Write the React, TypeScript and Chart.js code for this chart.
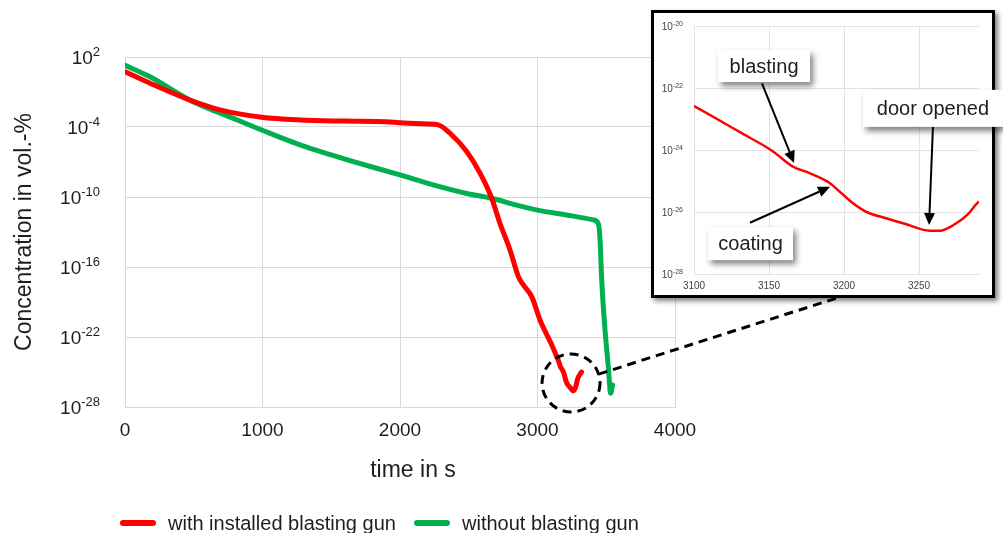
import React, { useEffect, useRef } from 'react';
import { Chart, registerables } from 'chart.js';

Chart.register(...registerables);

const FONT = '"Liberation Sans", Arial, Helvetica, sans-serif';
const TEXT = '#1e1e1e';

// ---- data (time in s, concentration in vol.-%) ----
const redTimes = [0, 182, 473, 691, 994, 1273, 1600, 1900, 2000, 2200, 2279, 2364, 2485, 2582, 2667, 2727, 2800, 2861, 2897, 2958, 3018, 3100, 3130, 3152, 3166, 3177, 3190, 3197, 3206, 3215, 3228, 3241, 3257, 3264, 3273, 3282, 3290, 3320];
const redValues = [5.5e0, 5.6e-1, 2.0e-2, 2.9e-3, 6.8e-4, 4.0e-4, 3.2e-4, 2.8e-4, 2.3e-4, 1.8e-4, 1.5e-4, 2.9e-5, 7.8e-7, 1.1e-8, 7.8e-11, 5.5e-13, 2.9e-15, 1.5e-17, 2.9e-18, 2.9e-19, 2.9e-21, 2.6e-23, 3.9e-24, 9.5e-25, 2.9e-25, 1.8e-25, 8.9e-26, 4.6e-26, 1.9e-26, 1.0e-26, 6.3e-27, 4.1e-27, 2.5e-27, 2.5e-27, 3.8e-27, 7.9e-27, 2.2e-26, 1.0e-25];

const greenTimes = [0, 182, 473, 788, 994, 1273, 1500, 1636, 2000, 2242, 2485, 2667, 2848, 3018, 3212, 3406, 3443, 3455, 3467, 3491, 3515, 3532, 3546];
const greenValues = [2.0e1, 2.0e0, 2.0e-2, 5.5e-4, 5.5e-5, 2.9e-6, 4.0e-7, 1.3e-7, 7.8e-9, 1.1e-9, 2.0e-10, 7.8e-11, 2.0e-11, 6.8e-12, 2.9e-12, 1.1e-12, 4.9e-13, 2.0e-14, 7.8e-18, 4.0e-22, 2.9e-25, 1.5e-27, 7.8e-27];

const seriesNames = ['with installed blasting gun', 'without blasting gun'];
const seriesColors = ['#ff0000', '#00b050'];

// main axes
const xTicks = [0, 1000, 2000, 3000, 4000];
const xTickLabels = ['0', '1000', '2000', '3000', '4000'];
const yTicks = [1e2, 1e-4, 1e-10, 1e-16, 1e-22, 1e-28];
const yTickExponents = ['2', '-4', '-10', '-16', '-22', '-28'];
const xTitle = 'time in s';
const yTitle = 'Concentration in vol.-%';

// inset axes
const insetXTicks = [3100, 3150, 3200, 3250];
const insetXTickLabels = ['3100', '3150', '3200', '3250'];
const insetYTicks = [1e-20, 1e-22, 1e-24, 1e-26, 1e-28];
const insetYTickExponents = ['-20', '-22', '-24', '-26', '-28'];

// zoom marker in the main chart
const markerTime = 3244;
const markerValue = 1.15e-26;

// inset annotations (data coordinates)
const annotations = [
  { text: 'blasting', box: [3146.7, 5.1e-22], w: 92, h: 32, tail: [3145.3, 1.4e-22], tip: [3166.7, 3.8e-25] },
  { text: 'coating', box: [3137.7, 9.5e-28], w: 85, h: 33, tail: [3137.3, 4.5e-27], tip: [3190.7, 6.5e-26] },
  { text: 'door opened', box: [3259.3, 2.2e-23], w: 140, h: 37, tail: [3259.3, 5.5e-24], tip: [3256.7, 3.8e-27] },
];

const toPoints = (xs: number[], ys: number[]) => xs.map((x, i) => ({ x, y: ys[i] }));

// draws "10" with a raised exponent for each y tick
const supTicks = (id: string, exps: string[], baseSize: number, supSize: number, pad: number, raise: number, color: string) => ({
  id,
  afterDraw(chart: any) {
    const { ctx } = chart;
    const ys = chart.scales.y;
    ctx.save();
    ctx.fillStyle = color;
    ctx.textBaseline = 'alphabetic';
    ctx.textAlign = 'left';
    ys.ticks.forEach((t: any, i: number) => {
      const y = ys.getPixelForValue(t.value);
      ctx.font = `${supSize}px ${FONT}`;
      const ws = ctx.measureText(exps[i]).width;
      ctx.font = `${baseSize}px ${FONT}`;
      const wb = ctx.measureText('10').width;
      const x0 = ys.right - pad - ws - wb;
      const base = y + baseSize * 0.358;
      ctx.fillText('10', x0, base);
      ctx.font = `${supSize}px ${FONT}`;
      ctx.fillText(exps[i], x0 + wb, base - raise);
    });
    ctx.restore();
  },
});

const mainDecor = {
  id: 'mainDecor',
  afterDraw(chart: any) {
    const { ctx, scales } = chart;
    // x title
    ctx.save();
    ctx.fillStyle = TEXT;
    ctx.font = `23px ${FONT}`;
    ctx.textAlign = 'center';
    ctx.textBaseline = 'middle';
    ctx.fillText(xTitle, 413, 471);
    ctx.restore();
    // dashed zoom circle + connector
    const cx = scales.x.getPixelForValue(markerTime);
    const cy = scales.y.getPixelForValue(markerValue);
    const r = 29;
    ctx.save();
    ctx.strokeStyle = '#000';
    ctx.lineWidth = 3;
    ctx.setLineDash([9, 6]);
    ctx.beginPath();
    ctx.arc(cx, cy, r, 0, Math.PI * 2);
    ctx.stroke();
    const ex = 840;
    const ey = 297;
    const a = Math.atan2(ey - cy, ex - cx);
    ctx.beginPath();
    ctx.moveTo(cx + r * Math.cos(a), cy + r * Math.sin(a));
    ctx.lineTo(ex, ey);
    ctx.stroke();
    ctx.restore();
  },
};

const insetNotes = {
  id: 'insetNotes',
  afterDraw(chart: any) {
    const { ctx, scales } = chart;
    const px = (p: number[]) => [scales.x.getPixelForValue(p[0]), scales.y.getPixelForValue(p[1])];
    ctx.save();
    annotations.forEach((a) => {
      const [tx, ty] = px(a.tail);
      const [hx, hy] = px(a.tip);
      const ang = Math.atan2(hy - ty, hx - tx);
      const hl = 12;
      const hw = 5.5;
      const bx = hx - hl * Math.cos(ang);
      const by = hy - hl * Math.sin(ang);
      ctx.strokeStyle = '#000';
      ctx.fillStyle = '#000';
      ctx.lineWidth = 2;
      ctx.beginPath();
      ctx.moveTo(tx, ty);
      ctx.lineTo(bx, by);
      ctx.stroke();
      ctx.beginPath();
      ctx.moveTo(hx, hy);
      ctx.lineTo(bx + hw * Math.sin(ang), by - hw * Math.cos(ang));
      ctx.lineTo(bx - hw * Math.sin(ang), by + hw * Math.cos(ang));
      ctx.closePath();
      ctx.fill();
    });
    annotations.forEach((a) => {
      const [cx, cy] = px(a.box);
      ctx.save();
      ctx.shadowColor = 'rgba(0,0,0,0.5)';
      ctx.shadowOffsetX = 3;
      ctx.shadowOffsetY = 4;
      ctx.shadowBlur = 6;
      ctx.fillStyle = '#fff';
      ctx.fillRect(cx - a.w / 2, cy - a.h / 2, a.w, a.h);
      ctx.restore();
      ctx.fillStyle = TEXT;
      ctx.font = `20px ${FONT}`;
      ctx.textAlign = 'center';
      ctx.textBaseline = 'middle';
      ctx.fillText(a.text, cx, cy + 1);
    });
    ctx.restore();
  },
};

function MainChart() {
  const ref = useRef<HTMLCanvasElement>(null);
  useEffect(() => {
    if (!ref.current) return;
    const chart = new Chart(ref.current, {
      type: 'line',
      data: {
        datasets: [
          {
            label: seriesNames[0],
            data: toPoints(redTimes, redValues),
            borderColor: seriesColors[0],
            backgroundColor: seriesColors[0],
            borderWidth: 5,
            pointRadius: 0,
            cubicInterpolationMode: 'monotone',
            borderCapStyle: 'round',
            borderJoinStyle: 'round',
          },
          {
            label: seriesNames[1],
            data: toPoints(greenTimes, greenValues),
            borderColor: seriesColors[1],
            backgroundColor: seriesColors[1],
            borderWidth: 5,
            pointRadius: 0,
            cubicInterpolationMode: 'monotone',
            borderCapStyle: 'round',
            borderJoinStyle: 'round',
          },
        ],
      },
      options: {
        animation: false,
        responsive: false,
        maintainAspectRatio: false,
        layout: { padding: { left: 0, top: 57, right: 328, bottom: 50 } },
        plugins: { legend: { display: false }, tooltip: { enabled: false } },
        scales: {
          x: {
            type: 'linear',
            min: 0,
            max: 4000,
            afterBuildTicks: (s: any) => { s.ticks = xTicks.map((v) => ({ value: v })); },
            afterFit: (s: any) => { s.height = 76; },
            grid: { color: '#d9d9d9', drawTicks: false, lineWidth: 1 },
            border: { color: '#d9d9d9' },
            ticks: {
              padding: 12,
              color: TEXT,
              font: { family: FONT, size: 19 },
              maxRotation: 0,
              autoSkip: false,
              callback: (_v: any, i: number) => xTickLabels[i],
            },
          },
          y: {
            type: 'logarithmic',
            min: 1e-28,
            max: 1e2,
            afterBuildTicks: (s: any) => { s.ticks = yTicks.map((v) => ({ value: v })); },
            afterFit: (s: any) => { s.width = 125; },
            grid: { color: '#d9d9d9', drawTicks: false, lineWidth: 1 },
            border: { color: '#d9d9d9' },
            ticks: { display: false },
            title: { display: true, text: yTitle, color: TEXT, font: { family: FONT, size: 23 }, padding: { top: 11, bottom: 0 } },
          },
        },
      },
      plugins: [mainDecor, supTicks('mainSup', yTickExponents, 19, 13, 25, 7.5, TEXT)],
    } as any);
    return () => chart.destroy();
  }, []);
  return <canvas ref={ref} width={1003} height={533} style={{ position: 'absolute', left: 0, top: 0, display: 'block' }} />;
}

function InsetChart() {
  const ref = useRef<HTMLCanvasElement>(null);
  useEffect(() => {
    if (!ref.current) return;
    const chart = new Chart(ref.current, {
      type: 'line',
      data: {
        datasets: [
          {
            label: seriesNames[0],
            data: toPoints(redTimes, redValues),
            borderColor: seriesColors[0],
            borderWidth: 2.5,
            pointRadius: 0,
            cubicInterpolationMode: 'monotone',
          },
        ],
      },
      options: {
        animation: false,
        responsive: false,
        maintainAspectRatio: false,
        layout: { padding: { left: 0, top: 16, right: 24, bottom: 0 } },
        plugins: { legend: { display: false }, tooltip: { enabled: false } },
        scales: {
          x: {
            type: 'linear',
            min: 3100,
            max: 3290,
            afterBuildTicks: (s: any) => { s.ticks = insetXTicks.map((v) => ({ value: v })); },
            afterFit: (s: any) => { s.height = 24; },
            grid: { color: '#e3e3e3', drawTicks: false },
            border: { color: '#e3e3e3' },
            ticks: {
              padding: 6,
              color: '#444',
              font: { family: FONT, size: 10 },
              maxRotation: 0,
              autoSkip: false,
              callback: (_v: any, i: number) => insetXTickLabels[i],
            },
          },
          y: {
            type: 'logarithmic',
            min: 1e-28,
            max: 1e-20,
            afterBuildTicks: (s: any) => { s.ticks = insetYTicks.map((v) => ({ value: v })); },
            afterFit: (s: any) => { s.width = 43; },
            grid: { color: '#e3e3e3', drawTicks: false },
            border: { color: '#e3e3e3' },
            ticks: { display: false },
          },
        },
      },
      plugins: [insetNotes, supTicks('insetSup', insetYTickExponents, 10, 7, 11, 4, '#444')],
    } as any);
    return () => chart.destroy();
  }, []);
  return <canvas ref={ref} width={352} height={288} style={{ position: 'absolute', left: 651, top: 10, display: 'block', zIndex: 2 }} />;
}

export default function App() {
  const legendItem = (i: number, lineLeft: number, textLeft: number) => (
    <React.Fragment key={i}>
      <div style={{ position: 'absolute', left: lineLeft, top: 520, width: 36, height: 6, borderRadius: 3, background: seriesColors[i] }} />
      <div style={{ position: 'absolute', left: textLeft, top: 511, height: 24, lineHeight: '24px', fontFamily: FONT, fontSize: 20, color: TEXT, whiteSpace: 'nowrap' }}>
        {seriesNames[i]}
      </div>
    </React.Fragment>
  );
  return (
    <div style={{ position: 'fixed', left: 0, top: 0, width: 1003, height: 533, background: '#fff', overflow: 'hidden' }}>
      <MainChart />
      <div
        style={{
          position: 'absolute',
          left: 651,
          top: 10,
          width: 344,
          height: 288,
          boxSizing: 'border-box',
          border: '3px solid #000',
          background: '#fff',
          boxShadow: '3px 3px 5px rgba(0,0,0,0.5)',
          zIndex: 1,
        }}
      />
      <InsetChart />
      {legendItem(0, 120, 168)}
      {legendItem(1, 414, 462)}
    </div>
  );
}
